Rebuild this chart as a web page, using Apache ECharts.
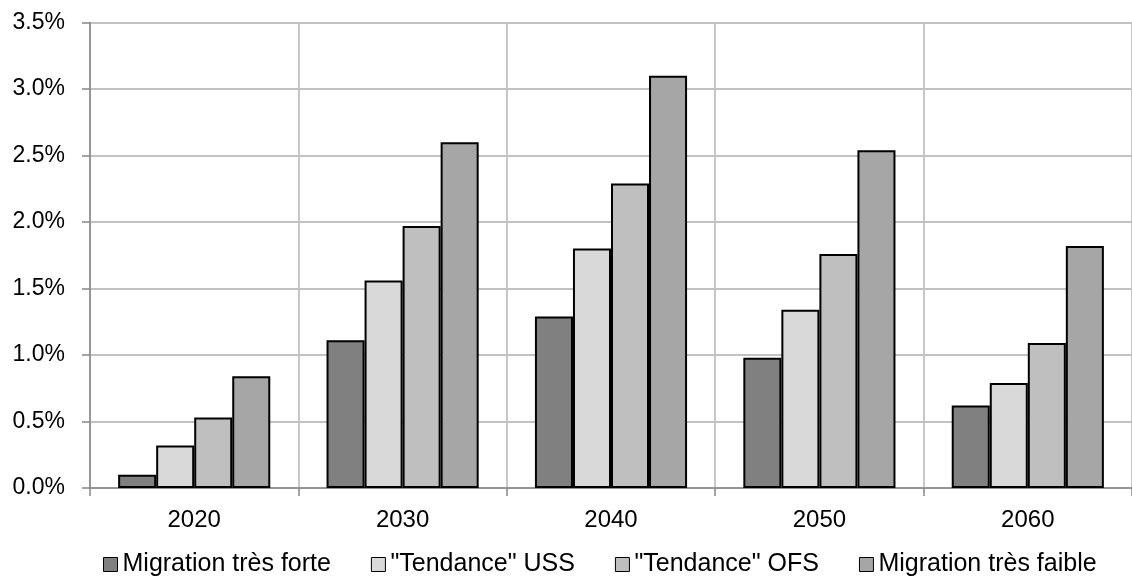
<!DOCTYPE html>
<html>
<head>
<meta charset="utf-8">
<script src="https://cdn.jsdelivr.net/npm/echarts@6/dist/echarts.min.js"></script>
<style>
  html, body { margin: 0; padding: 0; background: #fff; }
  #chart { width: 1132px; height: 576px; }
</style>
</head>
<body>
<div id="chart"></div>
<script>
// Years on the category axis
const years = ['2020', '2030', '2040', '2050', '2060'];

// Values in percent, one array per scenario
const migrationTresForte = [0.10, 1.11, 1.29, 0.98, 0.62];
const tendanceUSS = [0.32, 1.56, 1.80, 1.34, 0.79];
const tendanceOFS = [0.53, 1.97, 2.29, 1.76, 1.09];
const migrationTresFaible = [0.84, 2.60, 3.10, 2.54, 1.82];

// Y axis scale (percent)
const yMin = 0;
const yMax = 3.5;
const yStep = 0.5;

const seriesNames = ['Migration très forte', '"Tendance" USS', '"Tendance" OFS', 'Migration très faible'];
const seriesData = [migrationTresForte, tendanceUSS, tendanceOFS, migrationTresFaible];
const seriesColors = ['#808080', '#d9d9d9', '#bfbfbf', '#a6a6a6'];

const FONT = '"Liberation Sans", Arial, sans-serif';

const chart = echarts.init(document.getElementById('chart'), null, { renderer: 'canvas' });

chart.setOption({
  animation: false,
  backgroundColor: '#ffffff',
  textStyle: { fontFamily: FONT, color: '#000' },
  grid: { left: 90, right: -9, top: 22.5, bottom: 88, containLabel: false },
  legend: {
    data: seriesNames,
    top: 547,
    left: 98,
    itemWidth: 14,
    itemHeight: 14,
    itemGap: 40,
    icon: 'rect',
    itemStyle: { borderColor: '#000', borderWidth: 1 },
    textStyle: { fontFamily: FONT, fontSize: 25, color: '#000' }
  },
  xAxis: {
    type: 'category',
    data: years,
    boundaryGap: true,
    axisLine: { show: true, lineStyle: { color: '#868686', width: 1.5 } },
    axisTick: { show: true, length: 8, lineStyle: { color: '#868686', width: 1.5 } },
    axisLabel: { fontFamily: FONT, fontSize: 24, color: '#000', margin: 20 },
    splitLine: { show: true, lineStyle: { color: '#c2c2c2', width: 1.8 } }
  },
  yAxis: {
    type: 'value',
    min: yMin,
    max: yMax,
    interval: yStep,
    axisLine: { show: true, lineStyle: { color: '#868686', width: 1.5 } },
    axisTick: { show: true, length: 8, lineStyle: { color: '#868686', width: 1.5 } },
    axisLabel: {
      fontFamily: FONT, fontSize: 23, color: '#000', margin: 25,
      formatter: v => v.toFixed(1) + '%'
    },
    splitLine: { show: true, lineStyle: { color: '#c2c2c2', width: 1.8 } }
  },
  series: seriesNames.map((name, i) => ({
    name,
    type: 'bar',
    data: seriesData[i],
    barGap: '0%',
    barCategoryGap: '27%',
    itemStyle: { color: seriesColors[i], borderColor: '#000', borderWidth: 2 }
  }))
});
</script>
</body>
</html>
